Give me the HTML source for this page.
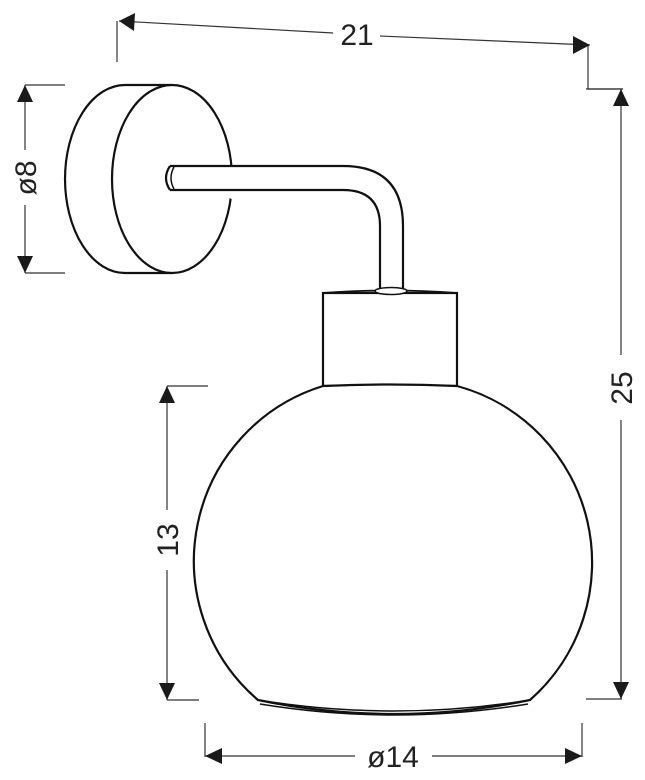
<!DOCTYPE html>
<html><head><meta charset="utf-8"><style>
html,body{margin:0;padding:0;background:#fff;width:645px;height:780px;overflow:hidden}
svg{display:block}
text{font-family:"Liberation Sans",sans-serif;font-size:30px;fill:#222}
</style></head><body>
<svg width="645" height="780" viewBox="0 0 645 780" xmlns="http://www.w3.org/2000/svg">
<g fill="none" stroke="#111" stroke-width="2.2">
<!-- backplate -->
<path d="M125,85 A60,94 0 0 0 125,273 L172,273"/>
<path d="M125,85 L172,85"/>
<ellipse cx="172" cy="179" rx="60" ry="94" fill="#fff"/>
<!-- arm -->
<path d="M170,166 L343,166 Q403,166 403,226 L403,291" fill="#fff"/>
<path d="M170,190 L343,190 Q380,190 380,226 L380,291"/>
<path d="M170,166 Q162,178 170,190" />
<path d="M174,167 Q168,178 174,189" stroke-width="1.5"/>
<!-- socket -->
<rect x="323" y="293" width="134" height="93" fill="#fff"/>
<path d="M323,293 Q390,288 457,293" stroke-width="1.8"/>
<ellipse cx="391" cy="291" rx="16" ry="3.5" fill="#fff" stroke-width="1.6"/>
<!-- globe -->
<path d="M323,386 Q390,383 457,386 A183,183 0 0 1 530,700 Q394,728 258,700 A183,183 0 0 1 323,386 Z" fill="#fff"/>
<path d="M258,700 Q394,722 530,700" stroke-width="1.5"/>
<path d="M260,704 Q394,726 528,704" stroke-width="1.5"/>
</g>
<g stroke="#333" stroke-width="1.2" fill="none">
<!-- 21 -->
<path d="M117,62 L117,21"/>
<path d="M119,21 L333,33"/><path d="M380,36 L590,45"/>
<path d="M588,45 L588,89 L623,89"/>
<!-- ø8 -->
<path d="M25,85 L65,85"/><path d="M25,273 L65,273"/>
<path d="M25,85 L25,150"/><path d="M25,205 L25,273"/>
<!-- 25 -->
<path d="M586,89 L623,89"/><path d="M586,699 L622,699"/>
<path d="M621,89 L621,355"/><path d="M621,420 L621,699"/>
<!-- 13 -->
<path d="M167,386 L208,386"/><path d="M167,700 L199,700"/>
<path d="M167,386 L167,510"/><path d="M167,570 L167,700"/>
<!-- ø14 -->
<path d="M205,723 L205,757"/><path d="M582,723 L582,757"/>
<path d="M205,756 L355,756"/><path d="M432,756 L582,756"/>
</g>
<g fill="#1a1a1a">
<path d="M119,21 L135,13 L134,31 Z"/>
<path d="M590,45 L573,36 L573,54 Z"/>
<path d="M25,85 L17,102 L33,102 Z"/>
<path d="M25,273 L17,256 L33,256 Z"/>
<path d="M621,89 L613,106 L629,106 Z"/>
<path d="M621,699 L613,682 L629,682 Z"/>
<path d="M167,386 L159,403 L175,403 Z"/>
<path d="M167,700 L159,683 L175,683 Z"/>
<path d="M205,756 L222,748 L222,764 Z"/>
<path d="M582,756 L565,748 L565,764 Z"/>
</g>
<text x="357" y="45" text-anchor="middle">21</text>
<text transform="translate(36,178) rotate(-90)" text-anchor="middle">ø8</text>
<text transform="translate(632,388) rotate(-90)" text-anchor="middle">25</text>
<text transform="translate(178,540) rotate(-90)" text-anchor="middle">13</text>
<text x="393" y="767" text-anchor="middle">ø14</text>
</svg>
</body></html>
